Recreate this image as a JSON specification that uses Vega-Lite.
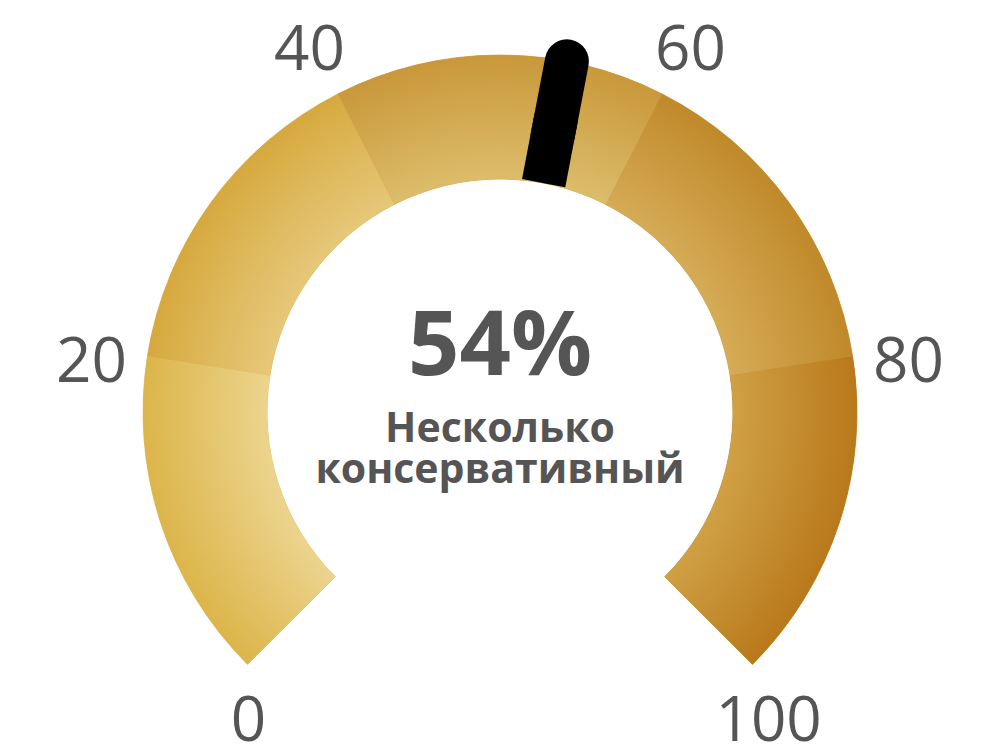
{
  "$schema": "https://vega.github.io/schema/vega-lite/v6.json",
  "width": 1000,
  "height": 682,
  "autosize": "none",
  "padding": {"top": 71, "left": 0, "right": 0, "bottom": 0},
  "background": "white",
  "datasets": {
    "bands": [
      {"band": 1, "start": 0, "end": 20},
      {"band": 2, "start": 20, "end": 40},
      {"band": 3, "start": 40, "end": 60},
      {"band": 4, "start": 60, "end": 80},
      {"band": 5, "start": 80, "end": 100}
    ],
    "reading": [
      {"value": 54, "label": "Несколько консервативный"}
    ],
    "ticks": [
      {"tick": 0}, {"tick": 20}, {"tick": 40}, {"tick": 60}, {"tick": 80}, {"tick": 100}
    ]
  },
  "layer": [
    {
      "data": {"name": "bands"},
      "mark": {"type": "arc", "innerRadius": 233, "outerRadius": 357, "strokeWidth": 0.8},
      "encoding": {
        "theta": {"field": "start", "type": "quantitative", "stack": null,
                  "scale": {"domain": [0, 100], "range": [-2.35619, 2.35619], "zero": false, "nice": false}},
        "theta2": {"field": "end"},
        "color": {"field": "band", "type": "ordinal", "legend": null,
                  "scale": {"range": ["#e2c065", "#dcb456", "#d0a650", "#c8973f", "#c08b30"]}},
        "stroke": {"field": "band", "type": "ordinal", "legend": null,
                   "scale": {"range": ["#e2c065", "#dcb456", "#d0a650", "#c8973f", "#c08b30"]}}
      }
    },
    {
      "data": {"name": "bands"},
      "transform": [{"filter": "datum.band == 1"}],
      "mark": {
        "type": "arc", "innerRadius": 233, "outerRadius": 357,
        "fill": {
          "gradient": "radial",
          "x1": 1.3465, "y1": 0.181, "r1": 0,
          "x2": 1.3465, "y2": 0.181, "r2": 1.158,
          "stops": [
            {"offset": 0, "color": "#ecd48e"},
            {"offset": 0.653, "color": "#ecd48e"},
            {"offset": 1, "color": "#dcb54a"}
          ]
        }
      },
      "encoding": {
        "theta": {"field": "start", "type": "quantitative", "stack": null,
                  "scale": {"domain": [0, 100], "range": [-2.35619, 2.35619], "zero": false, "nice": false}},
        "theta2": {"field": "end"}
      }
    },
    {
      "data": {"name": "bands"},
      "transform": [{"filter": "datum.band == 2"}],
      "mark": {
        "type": "arc", "innerRadius": 233, "outerRadius": 357,
        "fill": {
          "gradient": "radial",
          "x1": 1.3136, "y1": 1.1292, "r1": 0,
          "x2": 1.3136, "y2": 1.1292, "r2": 1.2673,
          "stops": [
            {"offset": 0, "color": "#e6c87a"},
            {"offset": 0.653, "color": "#e6c87a"},
            {"offset": 1, "color": "#d6a93e"}
          ]
        }
      },
      "encoding": {
        "theta": {"field": "start", "type": "quantitative", "stack": null,
                  "scale": {"domain": [0, 100], "range": [-2.35619, 2.35619], "zero": false, "nice": false}},
        "theta2": {"field": "end"}
      }
    },
    {
      "data": {"name": "bands"},
      "transform": [{"filter": "datum.band == 3"}],
      "mark": {
        "type": "arc", "innerRadius": 233, "outerRadius": 357,
        "fill": {
          "gradient": "radial",
          "x1": 0.5, "y1": 1.3708, "r1": 0,
          "x2": 0.5, "y2": 1.3708, "r2": 1.1012,
          "stops": [
            {"offset": 0, "color": "#dcbc6a"},
            {"offset": 0.653, "color": "#dcbc6a"},
            {"offset": 1, "color": "#c9983a"}
          ]
        }
      },
      "encoding": {
        "theta": {"field": "start", "type": "quantitative", "stack": null,
                  "scale": {"domain": [0, 100], "range": [-2.35619, 2.35619], "zero": false, "nice": false}},
        "theta2": {"field": "end"}
      }
    },
    {
      "data": {"name": "bands"},
      "transform": [{"filter": "datum.band == 4"}],
      "mark": {
        "type": "arc", "innerRadius": 233, "outerRadius": 357,
        "fill": {
          "gradient": "radial",
          "x1": -0.3136, "y1": 1.1292, "r1": 0,
          "x2": -0.3136, "y2": 1.1292, "r2": 1.2673,
          "stops": [
            {"offset": 0, "color": "#d5ab56"},
            {"offset": 0.653, "color": "#d5ab56"},
            {"offset": 1, "color": "#c0892a"}
          ]
        }
      },
      "encoding": {
        "theta": {"field": "start", "type": "quantitative", "stack": null,
                  "scale": {"domain": [0, 100], "range": [-2.35619, 2.35619], "zero": false, "nice": false}},
        "theta2": {"field": "end"}
      }
    },
    {
      "data": {"name": "bands"},
      "transform": [{"filter": "datum.band == 5"}],
      "mark": {
        "type": "arc", "innerRadius": 233, "outerRadius": 357,
        "fill": {
          "gradient": "radial",
          "x1": -0.3465, "y1": 0.181, "r1": 0,
          "x2": -0.3465, "y2": 0.181, "r2": 1.158,
          "stops": [
            {"offset": 0, "color": "#d0a045"},
            {"offset": 0.653, "color": "#d0a045"},
            {"offset": 1, "color": "#b8791b"}
          ]
        }
      },
      "encoding": {
        "theta": {"field": "start", "type": "quantitative", "stack": null,
                  "scale": {"domain": [0, 100], "range": [-2.35619, 2.35619], "zero": false, "nice": false}},
        "theta2": {"field": "end"}
      }
    },
    {
      "data": {"name": "reading"},
      "mark": {"type": "arc", "innerRadius": 233, "outerRadius": 300, "fill": "black", "stroke": "black", "strokeWidth": 44, "strokeJoin": "miter"},
      "encoding": {
        "theta": {"field": "value", "type": "quantitative", "stack": null,
                  "scale": {"domain": [0, 100], "range": [-2.35619, 2.35619], "zero": false, "nice": false}},
        "theta2": {"field": "value"}
      }
    },
    {
      "data": {"name": "reading"},
      "mark": {"type": "arc", "innerRadius": 280, "outerRadius": 357, "fill": "black", "stroke": "black", "strokeWidth": 44, "strokeJoin": "round"},
      "encoding": {
        "theta": {"field": "value", "type": "quantitative", "stack": null,
                  "scale": {"domain": [0, 100], "range": [-2.35619, 2.35619], "zero": false, "nice": false}},
        "theta2": {"field": "value"}
      }
    },
    {
      "data": {"name": "ticks"},
      "transform": [{"filter": "datum.tick > 0 && datum.tick < 100"}],
      "mark": {"type": "text", "radius": 412, "fontSize": 62, "font": "Open Sans", "color": "#555555", "align": "center", "baseline": "middle", "dy": 4},
      "encoding": {
        "theta": {"field": "tick", "type": "quantitative", "stack": null,
                  "scale": {"domain": [0, 100], "range": [-2.403, 2.403], "zero": false, "nice": false}},
        "text": {"field": "tick", "type": "quantitative"}
      }
    },
    {
      "data": {"name": "ticks"},
      "transform": [{"filter": "datum.tick == 0 || datum.tick == 100"}],
      "mark": {"type": "text", "radius": 403, "fontSize": 62, "font": "Open Sans", "color": "#555555", "align": "center", "baseline": "middle", "dy": 2, "dx": 8.5},
      "encoding": {
        "theta": {"field": "tick", "type": "quantitative", "stack": null,
                  "scale": {"domain": [0, 100], "range": [-2.44, 2.44], "zero": false, "nice": false}},
        "text": {"field": "tick", "type": "quantitative"}
      }
    },
    {
      "data": {"name": "reading"},
      "transform": [{"calculate": "datum.value + '%'", "as": "pct"}],
      "mark": {"type": "text", "font": "Open Sans", "fontSize": 90, "fontWeight": "bold", "color": "#555555", "align": "center", "baseline": "alphabetic", "dy": -37},
      "encoding": {
        "text": {"field": "pct", "type": "nominal"}
      }
    },
    {
      "data": {"name": "reading"},
      "mark": {"type": "text", "font": "Open Sans", "fontSize": 41, "fontWeight": "bold", "color": "#555555", "align": "center", "baseline": "alphabetic", "dy": 30, "lineHeight": 41, "lineBreak": " "},
      "encoding": {
        "text": {"field": "label", "type": "nominal"}
      }
    }
  ],
  "resolve": {"scale": {"theta": "independent", "color": "independent", "stroke": "independent"}},
  "config": {"view": {"stroke": null}}
}
